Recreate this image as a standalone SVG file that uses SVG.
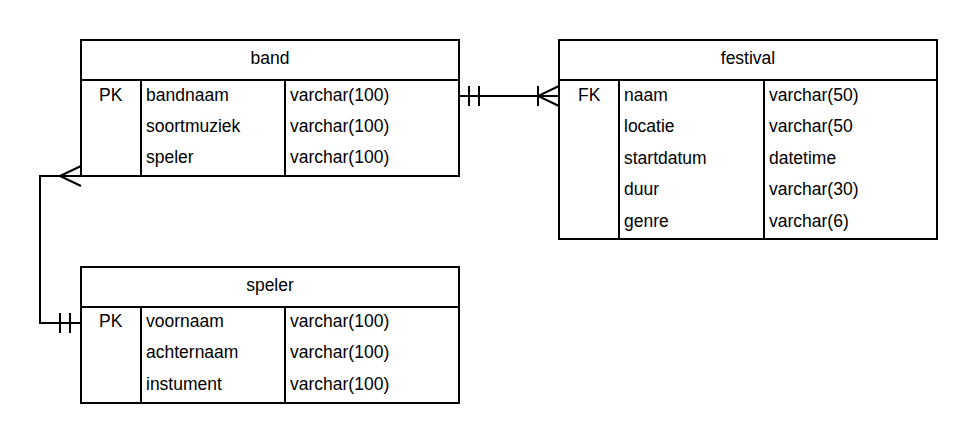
<svg xmlns="http://www.w3.org/2000/svg" width="978" height="443" viewBox="0 0 978 443">
<style>
.box{fill:#fff;stroke:#000;stroke-width:2}
.ln{stroke:#000;stroke-width:2;fill:none}
text{font-family:"Liberation Sans",Arial,sans-serif;font-size:17.5px;fill:#000;dominant-baseline:central}
.c{text-anchor:middle}
</style>
<rect width="978" height="443" fill="#fff"/>
<g id="band">
<rect class="box" x="81" y="40" width="378" height="136"/>
<line class="ln" x1="81" y1="80" x2="459" y2="80"/>
<line class="ln" x1="141" y1="80" x2="141" y2="176"/>
<line class="ln" x1="285" y1="80" x2="285" y2="176"/>
<text class="c" x="270" y="58">band</text>
<text x="99" y="95">PK</text>
<text x="146" y="95">bandnaam</text>
<text x="290" y="95">varchar(100)</text>
<text x="146" y="126">soortmuziek</text>
<text x="290" y="126">varchar(100)</text>
<text x="146" y="157">speler</text>
<text x="290" y="157">varchar(100)</text>
</g>
<g id="festival">
<rect class="box" x="559" y="40" width="378" height="199"/>
<line class="ln" x1="559" y1="80" x2="937" y2="80"/>
<line class="ln" x1="619" y1="80" x2="619" y2="239"/>
<line class="ln" x1="764" y1="80" x2="764" y2="239"/>
<text class="c" x="748" y="58">festival</text>
<text x="578" y="95">FK</text>
<text x="624" y="95">naam</text>
<text x="769" y="95">varchar(50)</text>
<text x="624" y="126">locatie</text>
<text x="769" y="126">varchar(50</text>
<text x="624" y="158">startdatum</text>
<text x="769" y="158">datetime</text>
<text x="624" y="189">duur</text>
<text x="769" y="189">varchar(30)</text>
<text x="624" y="221">genre</text>
<text x="769" y="221">varchar(6)</text>
</g>
<g id="speler">
<rect class="box" x="81" y="267" width="378" height="136"/>
<line class="ln" x1="81" y1="307" x2="459" y2="307"/>
<line class="ln" x1="141" y1="307" x2="141" y2="403"/>
<line class="ln" x1="285" y1="307" x2="285" y2="403"/>
<text class="c" x="270" y="285">speler</text>
<text x="99" y="321">PK</text>
<text x="146" y="321">voornaam</text>
<text x="290" y="321">varchar(100)</text>
<text x="146" y="352">achternaam</text>
<text x="290" y="352">varchar(100)</text>
<text x="146" y="384">instument</text>
<text x="290" y="384">varchar(100)</text>
</g>
<g id="connectors">
<path class="ln" d="M459 96 H559"/>
<path class="ln" d="M469 86 V106 M479 86 V106"/>
<path class="ln" d="M538 86 V106 M559 86 L538 96 L559 106"/>
<path class="ln" d="M81 323 H40 V176 H81"/>
<path class="ln" d="M60 313 V333 M70 313 V333"/>
<path class="ln" d="M81 166 L60 176 L81 186"/>
</g>
</svg>
